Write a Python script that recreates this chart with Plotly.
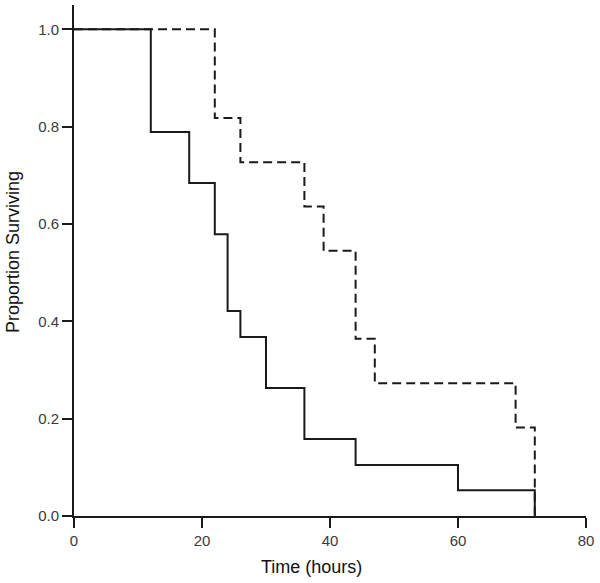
import plotly.graph_objects as go

# Solid curve (group A)
time_a = [0, 12, 18, 22, 24, 26, 30, 36, 44, 60, 72]
surv_a = [1.0, 0.789, 0.684, 0.579, 0.421, 0.368, 0.263, 0.158, 0.105, 0.053, 0.0]

# Dashed curve (group B)
time_b = [0, 22, 26, 36, 39, 44, 47, 69, 72]
surv_b = [1.0, 0.818, 0.727, 0.636, 0.545, 0.364, 0.273, 0.182, 0.0]

x_ticks = [0, 20, 40, 60, 80]
y_ticks = [0.0, 0.2, 0.4, 0.6, 0.8, 1.0]
y_tick_labels = ["0.0", "0.2", "0.4", "0.6", "0.8", "1.0"]

fig = go.Figure()
fig.add_trace(go.Scatter(x=time_b, y=surv_b, mode="lines", line_shape="hv",
                         line=dict(color="#1a1a1a", width=2, dash="9px,5px"),
                         showlegend=False))
fig.add_trace(go.Scatter(x=time_a, y=surv_a, mode="lines", line_shape="hv",
                         line=dict(color="#1a1a1a", width=2),
                         showlegend=False))

axis_common = dict(showgrid=False, zeroline=False, showline=True, linecolor="#1a1a1a",
                   linewidth=2, ticks="outside", ticklen=10, tickwidth=2, tickcolor="#1a1a1a",
                   tickfont=dict(family="Arial, Liberation Sans, sans-serif", size=15, color="#3a3a3a"))

fig.update_xaxes(range=[0, 80], tickvals=x_ticks, **axis_common)
fig.update_yaxes(range=[0, 1.05], tickvals=y_ticks, ticktext=y_tick_labels, **axis_common)

fig.add_annotation(text="Time (hours)", xref="paper", yref="paper", x=(311 - 74) / 512,
                   y=-(567 - 516) / 511, xanchor="center", yanchor="middle", showarrow=False,
                   font=dict(family="Arial, Liberation Sans, sans-serif", size=18, color="#111111"))
fig.add_annotation(text="Proportion Surviving", xref="paper", yref="paper", x=-(74 - 13) / 512,
                   y=(516 - 252) / 511, xanchor="center", yanchor="middle", showarrow=False,
                   textangle=-90,
                   font=dict(family="Arial, Liberation Sans, sans-serif", size=18, color="#111111"))

fig.update_layout(width=600, height=583, margin=dict(l=74, r=14, t=5, b=67),
                  plot_bgcolor="white", paper_bgcolor="white")

fig.write_html("out.html", config={"displayModeBar": False},
               post_script="document.body.style.margin='0';document.body.style.overflow='hidden';")
